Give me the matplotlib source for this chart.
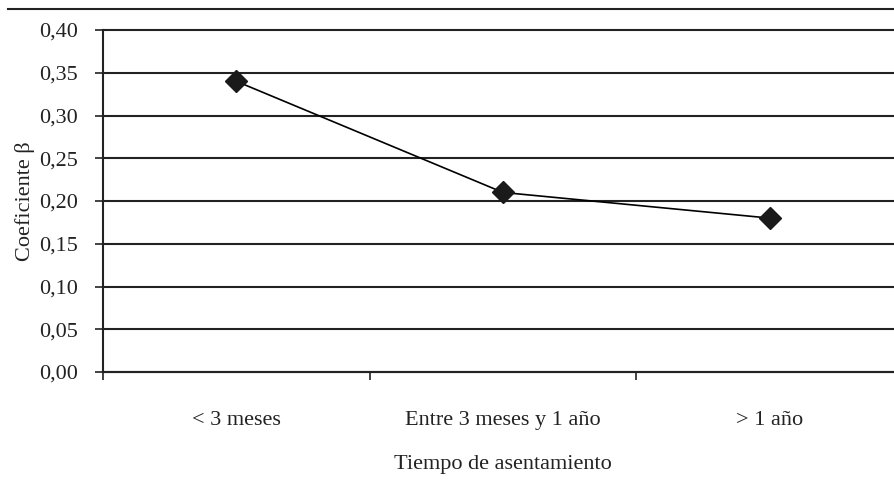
import matplotlib
matplotlib.use('Agg')
from matplotlib import pyplot as plt
from matplotlib.lines import Line2D

categories = ['< 3 meses', 'Entre 3 meses y 1 año', '> 1 año']
beta = [0.34, 0.21, 0.18]
yticks = [0.00, 0.05, 0.10, 0.15, 0.20, 0.25, 0.30, 0.35, 0.40]
ytick_labels = ['0,00', '0,05', '0,10', '0,15', '0,20', '0,25', '0,30', '0,35', '0,40']

plt.rcParams['font.family'] = ['Liberation Serif', 'DejaVu Serif']
ink = '#222222'
fs = 16

fig = plt.figure(figsize=(8.95, 4.82), dpi=100)
ax = fig.add_axes([103 / 895, 110 / 482, 800 / 895, 342 / 482])

xs = [i + 0.5 for i in range(len(categories))]
ax.plot(xs, beta, color='black', lw=1.2, marker='D', ms=11,
        markerfacecolor='#1a1a1a', markeredgecolor='#1a1a1a', zorder=3)

ax.set_xlim(0, 3)
ax.set_ylim(0, 0.40)
ax.set_yticks(yticks)
ax.set_yticklabels(ytick_labels, fontsize=fs, color=ink)
ax.yaxis.grid(True, color=ink, lw=1.5)
for gl in ax.get_ygridlines():
    gl.set_clip_on(False)
ax.tick_params(axis='y', direction='out', length=6, width=1.2, color=ink, pad=12)

ax.set_xticks(xs)
ax.set_xticklabels(categories, fontsize=fs, color=ink)
ax.set_xticks([0, 1, 2, 3], minor=True)
ax.tick_params(axis='x', which='major', length=0, pad=28)
ax.tick_params(axis='x', which='minor', direction='out', length=6, width=1.2, color=ink)

for side in ['top', 'right']:
    ax.spines[side].set_visible(False)
for side in ['left', 'bottom']:
    ax.spines[side].set_color(ink)
    ax.spines[side].set_linewidth(1.5)

ax.set_xlabel('Tiempo de asentamiento', fontsize=fs, color=ink, labelpad=18)
ax.set_ylabel('Coeficiente β', fontsize=fs, color=ink, labelpad=3)

fig.add_artist(Line2D([8 / 895, 1], [1 - 9 / 482, 1 - 9 / 482],
                      transform=fig.transFigure, color=ink, lw=1.5))

fig.savefig('out.png', dpi=100)
